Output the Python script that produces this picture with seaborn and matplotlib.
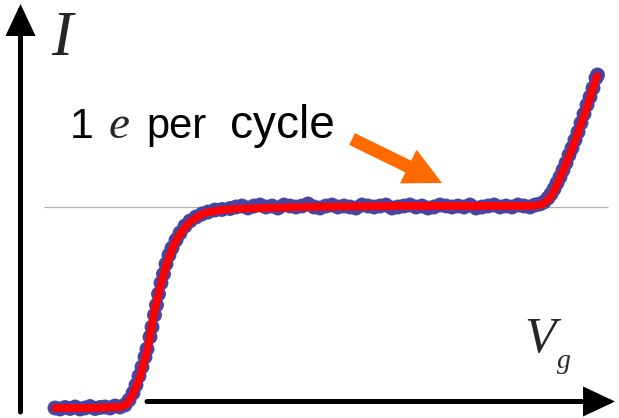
import matplotlib
matplotlib.use("Agg")
import matplotlib.pyplot as plt
from matplotlib.patches import ArrowStyle
import seaborn as sns
import pandas as pd

# ---- data (arbitrary units) ----
vg_dots = [0.55, 0.60, 0.65, 0.70, 0.75, 0.80, 0.85, 0.90, 0.95, 1.00, 1.05, 1.10, 1.15, 1.20, 1.25,
           1.29, 1.33, 1.36, 1.39, 1.42, 1.45, 1.47, 1.50, 1.52, 1.545, 1.565, 1.585, 1.61, 1.635, 1.66,
           1.69, 1.72, 1.76, 1.80, 1.85, 1.90, 1.96, 2.02, 2.08, 2.15, 2.22, 2.30,
           2.36, 2.42, 2.48, 2.54, 2.60, 2.66, 2.72, 2.78, 2.84, 2.90, 2.96, 3.02, 3.08, 3.14, 3.20,
           3.26, 3.32, 3.38, 3.44, 3.50, 3.56, 3.62, 3.68, 3.74, 3.80, 3.86, 3.92, 3.98, 4.04, 4.10,
           4.16, 4.22, 4.28, 4.34, 4.40, 4.46, 4.52, 4.58, 4.64, 4.70, 4.76, 4.82, 4.88, 4.94, 5.00,
           5.06, 5.12, 5.18, 5.24, 5.30, 5.35,
           5.40, 5.44, 5.48, 5.51, 5.54, 5.57, 5.60, 5.63, 5.66, 5.69, 5.72, 5.75, 5.78, 5.81, 5.84,
           5.87, 5.90, 5.93, 5.96, 5.975]
i_dots = [-0.01, -0.02, -0.005, -0.015, 0.0, -0.02, -0.01, 0.005, -0.015, -0.005, 0.0, -0.01, 0.01, 0.0, 0.02,
          0.07, 0.14, 0.22, 0.31, 0.40, 0.50, 0.58, 0.70, 0.80, 0.92, 1.02, 1.13, 1.24, 1.33, 1.43,
          1.52, 1.59, 1.67, 1.74, 1.81, 1.86, 1.90, 1.93, 1.95, 1.97, 1.975, 1.985,
          2.00, 2.01, 1.99, 2.01, 2.02, 2.00, 2.01, 1.99, 2.02, 2.01,
          2.00, 2.01, 2.03, 2.00, 1.99, 2.01, 2.02, 2.00, 2.01, 2.00,
          1.99, 2.02, 2.01, 2.00, 2.01, 2.02, 1.99, 2.00, 2.01, 2.02,
          2.00, 2.01, 1.99, 2.00, 2.02, 2.01, 2.00, 2.01, 2.00, 2.02,
          1.99, 2.00, 2.01, 2.02, 2.00, 2.01, 2.00, 2.02, 2.01, 2.00,
          2.02,
          2.03, 2.05, 2.09, 2.13, 2.18, 2.24, 2.30, 2.37, 2.44, 2.52, 2.59, 2.67, 2.75, 2.84, 2.93,
          3.02, 3.10, 3.19, 3.29, 3.32]

vg_fit = [0.55, 0.90, 1.20, 1.27, 1.32, 1.36, 1.40, 1.44, 1.48, 1.51,
          1.54, 1.58, 1.62, 1.67, 1.73, 1.78, 1.83, 1.90, 1.97, 2.05,
          2.15, 2.30, 2.60, 3.00, 4.00, 5.00, 5.30, 5.40, 5.46, 5.51,
          5.55, 5.60, 5.65, 5.70, 5.75, 5.80, 5.85, 5.90, 5.94, 5.97]
i_fit = [-0.01, -0.01, 0.0, 0.03, 0.11, 0.20, 0.30, 0.45, 0.60, 0.77,
         0.94, 1.11, 1.27, 1.44, 1.60, 1.70, 1.77, 1.85, 1.90, 1.94,
         1.96, 1.98, 1.99, 2.00, 2.01, 2.01, 2.01, 2.02, 2.05, 2.11,
         2.18, 2.29, 2.41, 2.53, 2.66, 2.80, 2.94, 3.09, 3.22, 3.31]

plateau_level = 2.0
plateau_label = ["1", "e", "per", "cycle"]
y_label = "I"
x_label = ("V", "g")

dots = pd.DataFrame({"Vg": vg_dots, "I": i_dots})
fit = pd.DataFrame({"Vg": vg_fit, "I": i_fit})

sns.set_theme(style="white")
plt.rcParams["font.family"] = ["Liberation Sans", "DejaVu Sans"]

W, H = 619, 418
fig = plt.figure(figsize=(W / 100, H / 100), dpi=100)
ax = fig.add_axes([0, 0, 1, 1])
ax.set_xlim(0, 6.19)
ax.set_ylim(-0.11, 4.07)
ax.axis("off")

# reference level
ax.hlines(plateau_level, 0.44, 6.08, color="#b0b0b0", lw=0.9, zorder=1)

sns.scatterplot(data=dots, x="Vg", y="I", ax=ax, s=115, color="#4646a2",
                edgecolor="none", linewidth=0, zorder=2, legend=False)
sns.lineplot(data=fit, x="Vg", y="I", ax=ax, color="#ff0000", lw=5.6,
             sort=False, estimator=None, zorder=3, legend=False)
for ln in ax.lines:
    ln.set_solid_capstyle("round")
    ln.set_solid_joinstyle("round")

# axes arrows (figure pixels)
head = ArrowStyle("-|>", head_length=17.0, head_width=8.0)
ax.annotate("", xy=(20.5, 414), xytext=(20.5, 6), xycoords="figure pixels",
            textcoords="figure pixels",
            arrowprops=dict(arrowstyle=head, color="black", lw=3.6, mutation_scale=1,
                            shrinkA=0, shrinkB=0, joinstyle="miter"))
ax.annotate("", xy=(615, 16.5), xytext=(147, 16.5), xycoords="figure pixels",
            textcoords="figure pixels",
            arrowprops=dict(arrowstyle=head, color="black", lw=3.6, mutation_scale=1,
                            shrinkA=0, shrinkB=0, joinstyle="miter"))

# orange pointer
ax.annotate("", xy=(442, 235), xytext=(352, 279), xycoords="figure pixels",
            textcoords="figure pixels",
            arrowprops=dict(arrowstyle=ArrowStyle("simple", head_length=27, head_width=27,
                                                  tail_width=9.4),
                            mutation_scale=1, color="#ff6a00", lw=0,
                            shrinkA=0, shrinkB=0))

def ftext(x, y, s, **kw):
    fig.text(x / W, (H - y) / H, s, va="baseline", ha="left", **kw)

serif_it = dict(family=["Liberation Serif", "DejaVu Serif"], style="italic")
ftext(51, 55, y_label, fontsize=46, **serif_it)
ftext(524, 352, x_label[0], fontsize=37, **serif_it)
ftext(557, 368, x_label[1], fontsize=20, **serif_it)

ftext(70, 138, plateau_label[0], fontsize=31, color="black")
ftext(109, 138, plateau_label[1], fontsize=34, **serif_it)
ftext(146, 138, plateau_label[2], fontsize=30, color="black")
ftext(230, 138, plateau_label[3], fontsize=33, color="black")

fig.savefig("out.png", dpi=100)
